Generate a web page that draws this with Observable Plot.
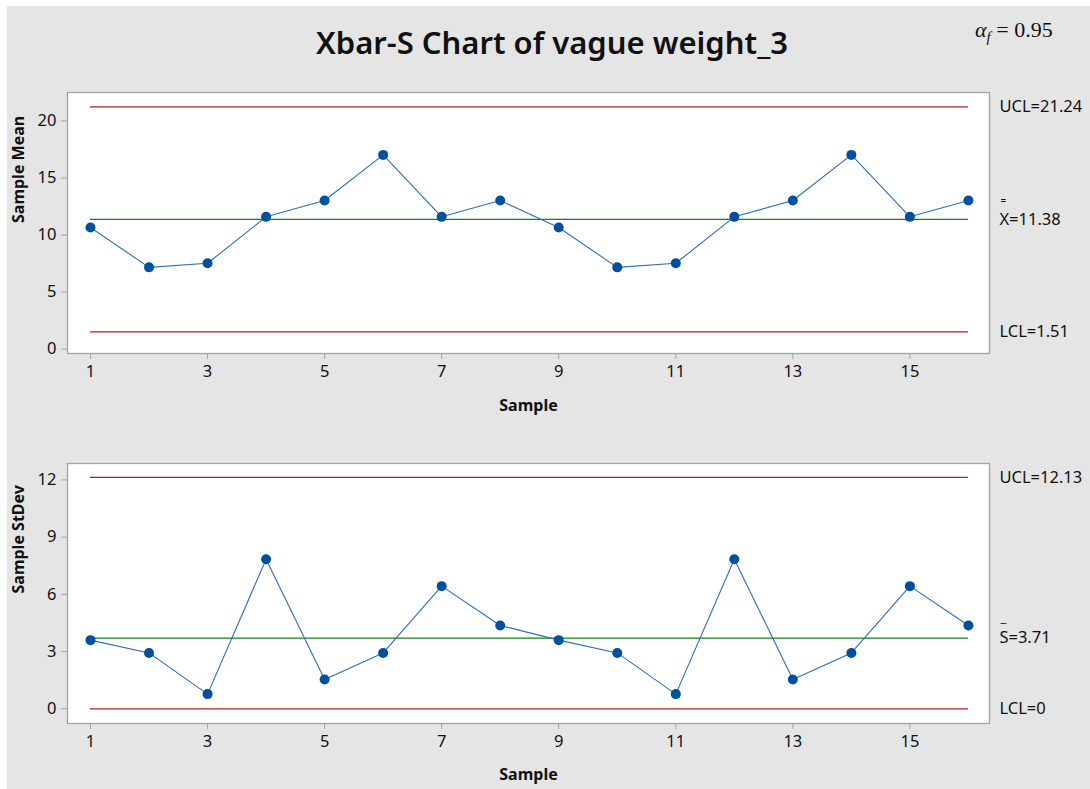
<!DOCTYPE html>
<html><head><meta charset="utf-8">
<script src="https://cdn.jsdelivr.net/npm/d3@7"></script>
<script src="https://cdn.jsdelivr.net/npm/@observablehq/plot@0.6"></script>
<style>
body{margin:0;background:#fff;width:1090px;height:789px;position:relative;overflow:hidden;font-family:"Noto Sans",sans-serif;}
#bg{position:absolute;left:7px;top:6px;width:1083px;height:783px;background:#e5e5e5;}
#title{position:absolute;left:0;width:1104px;top:21px;text-align:center;font-size:31px;font-weight:600;color:#111;}
#alpha{position:absolute;left:975px;top:17px;font-family:"Liberation Serif",serif;font-size:22px;color:#111;white-space:nowrap;}
#alpha sub{font-size:15px;}
#p1{position:absolute;left:0;top:80px;}
#p2{position:absolute;left:0;top:430px;}
svg{overflow:visible;}
</style></head><body>
<div id="bg"></div>
<div id="title">Xbar-S Chart of vague weight_3</div>
<div id="alpha"><i>α</i><sub><i>f</i></sub>&nbsp;=&nbsp;0.95</div>
<div id="p1"></div><div id="p2"></div>
<script>
const samples = [1,2,3,4,5,6,7,8,9,10,11,12,13,14,15,16];
const sampleMeans = [10.67,7.17,7.53,11.6,13.03,17.03,11.6,13.03,10.67,7.17,7.53,11.6,13.03,17.03,11.6,13.03];
const sampleStDevs = [3.6,2.93,0.77,7.84,1.54,2.93,6.43,4.37,3.6,2.93,0.77,7.84,1.54,2.93,6.43,4.37];
const xTicks = [1,3,5,7,9,11,13,15];
const meanTicks = [0,5,10,15,20];
const stdevTicks = [0,3,6,9,12];
const meanLimits = [21.24, 11.38, 1.51];
const meanLimitLabels = ["UCL=21.24", "X=11.38", "LCL=1.51"];
const stdevLimits = [12.13, 3.71, 0];
const stdevLimitLabels = ["UCL=12.13", "S=3.71", "LCL=0"];
const xAxisTitle = "Sample";
const meanAxisTitle = "Sample Mean";
const stdevAxisTitle = "Sample StDev";

const RED = "#b51f1f", GREEN = "#0a8a0a", PT = "#0050a0", LN = "#2a6fb8", FRAME = "#a3a3a3";
const firstS = d3.min(samples), lastS = d3.max(samples);

function panel({values, limits, labels, barChar, barDy, barSize, yDomain, yTicks, yTitle, height, marginTop, marginBottom, titleDy}) {
  const pts = samples.map((s, i) => ({s, v: values[i]}));
  return Plot.plot({
    width: 1090, height, marginLeft: 67, marginRight: 101, marginTop, marginBottom,
    x: {domain: [0.607, 16.36]},
    y: {domain: yDomain},
    style: {background: "transparent", fontFamily: "'Noto Sans', sans-serif", fontSize: "16.5px", color: "#111", overflow: "visible"},
    marks: [
      Plot.frame({fill: "white", stroke: FRAME, strokeWidth: 1.3}),
      Plot.axisX({ticks: xTicks, tickSize: 6, tickPadding: 6, stroke: FRAME, label: null}),
      Plot.axisY({ticks: yTicks, tickSize: 6, tickPadding: 5, stroke: FRAME, label: null}),
      Plot.ruleY(limits, {x1: firstS, x2: lastS, y: d => d, stroke: (d, i) => i === 1 ? GREEN : RED, strokeWidth: 1.3}),
      Plot.line(pts, {x: "s", y: "v", stroke: LN, strokeWidth: 1.1}),
      Plot.dot(pts, {x: "s", y: "v", r: 5, fill: PT, stroke: "none"}),
      Plot.text(limits, {x: () => lastS, y: d => d, text: (d, i) => labels[i], dx: 31, textAnchor: "start", fontSize: 16.5}),
      Plot.text([limits[1]], {x: () => lastS, y: d => d, text: () => barChar, dx: 32, dy: barDy, textAnchor: "start", fontSize: barSize}),
      Plot.text([xAxisTitle], {frameAnchor: "bottom", dy: titleDy, fontWeight: "bold", fontSize: 16}),
      Plot.text([yTitle], {frameAnchor: "left", dx: -49, rotate: -90, fontWeight: "bold", fontSize: 16})
    ]
  });
}

document.getElementById("p1").append(panel({
  values: sampleMeans, limits: meanLimits, labels: meanLimitLabels, barChar: "=", barDy: -18.5, barSize: 10,
  yDomain: [-0.38, 22.5], yTicks: meanTicks, yTitle: meanAxisTitle, height: 340, marginTop: 12, marginBottom: 67, titleDy: 57
}));
document.getElementById("p2").append(panel({
  values: sampleStDevs, limits: stdevLimits, labels: stdevLimitLabels, barChar: "_", barDy: -20.5, barSize: 13,
  yDomain: [-0.77, 12.86], yTicks: stdevTicks, yTitle: stdevAxisTitle, height: 359, marginTop: 33, marginBottom: 66, titleDy: 56
}));
</script>
</body></html>
